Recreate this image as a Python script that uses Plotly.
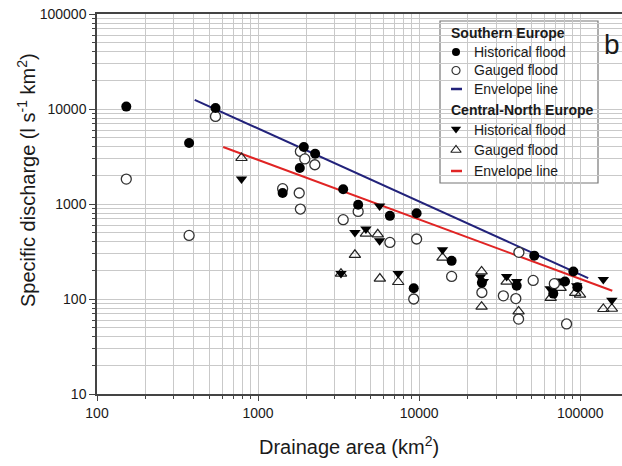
import plotly.graph_objects as go

# ---- data (drainage area km2, specific discharge l s-1 km-2) ----
south_hist_area = [152, 373, 544, 1923, 2260, 1815, 1420, 3375, 4180, 6580, 9640, 9250,
                   15900, 24500, 40300, 51800, 90600, 68000, 80400, 96000]
south_hist_q = [10600, 4390, 10260, 3980, 3380, 2390, 1306, 1430, 984, 750, 800, 130,
                252, 148, 138, 286, 195, 114, 153, 133]

south_gaug_area = [152, 373, 544, 1830, 1950, 2250, 1420, 1800, 1830, 3375, 4180, 6580,
                   9640, 9250, 15900, 24500, 33300, 39800, 41400, 41600, 51000, 69000, 82200]
south_gaug_q = [1830, 467, 8360, 3580, 2980, 2590, 1450, 1306, 885, 684, 836, 394,
                428, 100, 173, 117, 108, 101, 61.5, 310, 157, 145, 54.6]

cn_hist_area = [789, 5680, 3990, 4670, 5680, 3270, 7410, 13960, 24000, 25000, 34900,
                40300, 65000, 76000, 95000, 139000, 157000]
cn_hist_q = [1830, 950, 500, 545, 411, 185, 185, 330, 170, 153, 172,
             153, 128, 155, 138, 160, 97]

cn_gaug_area = [789, 4670, 5530, 3990, 3270, 5700, 7410, 13960, 24400, 24400, 34900,
                41400, 65500, 75500, 93000, 99600, 139000, 157000]
cn_gaug_q = [3050, 487, 480, 292, 185, 164, 151, 272, 195, 83, 152,
             74, 103, 131, 116, 111, 78.5, 79]

south_env_area = [404, 112000]
south_env_q = [12500, 166]
cn_env_area = [607, 158000]
cn_env_q = [3980, 122]

y_ticks = [10, 100, 1000, 10000, 100000]
y_tick_text = ["10", "100", "1000", "10000", "100000"]
x_ticks = [100, 1000, 10000, 100000]
x_tick_text = ["100", "1000", "10000", "100000"]

BLUE = "#22227a"
RED = "#e02424"
FONT = "Arial, Liberation Sans, sans-serif"

W, H = 622, 466
L, R, T, B = 97, 0, 14, 466 - 394
PW, PH = W - L - R, H - T - B


def px(xp):
    return (xp - L) / PW


def py(yp):
    return (H - B - yp) / PH


fig = go.Figure()

fig.add_trace(go.Scatter(x=south_env_area, y=south_env_q, mode="lines",
                         line=dict(color=BLUE, width=2), showlegend=False))
fig.add_trace(go.Scatter(x=cn_env_area, y=cn_env_q, mode="lines",
                         line=dict(color=RED, width=2), showlegend=False))

fig.add_trace(go.Scatter(x=cn_gaug_area, y=cn_gaug_q, mode="markers", showlegend=False,
                         marker=dict(symbol="triangle-up-open", size=10,
                                     color="#222", line=dict(width=1.2))))
fig.add_trace(go.Scatter(x=cn_hist_area, y=cn_hist_q, mode="markers", showlegend=False,
                         marker=dict(symbol="triangle-down", size=10, color="black",
                                     line=dict(width=0))))
fig.add_trace(go.Scatter(x=south_gaug_area, y=south_gaug_q, mode="markers", showlegend=False,
                         marker=dict(symbol="circle", size=10, color="white",
                                     line=dict(color="#333", width=1.3))))
fig.add_trace(go.Scatter(x=south_hist_area, y=south_hist_q, mode="markers", showlegend=False,
                         marker=dict(symbol="circle", size=10, color="black",
                                     line=dict(width=0))))

# ---- manual legend drawn in a paper-space overlay axis ----
leg_sym_x = 456
leg_text_x = 472
legend_marks = [
    (52, "circle", 8, "black", 0),
    (70.5, "circle-open", 8, "#333", 1.2),
    (129, "triangle-down", 9, "black", 0),
    (150, "triangle-up-open", 9, "#222", 1.2),
]
for yy, sym, sz, col, lw in legend_marks:
    fig.add_trace(go.Scatter(x=[px(leg_sym_x)], y=[py(yy)], xaxis="x2", yaxis="y2",
                             mode="markers", showlegend=False, hoverinfo="skip",
                             marker=dict(symbol=sym, size=sz, color=col, line=dict(width=lw))))
for yy, col in [(89, BLUE), (171, RED)]:
    fig.add_trace(go.Scatter(x=[px(451), px(462)], y=[py(yy), py(yy)], xaxis="x2", yaxis="y2",
                             mode="lines", showlegend=False, hoverinfo="skip",
                             line=dict(color=col, width=2.5)))

legend_rows = [
    ("<b>Southern Europe</b>", 449, 33),
    ("Historical flood", leg_text_x, 52),
    ("Gauged flood", leg_text_x, 70.5),
    ("Envelope line", leg_text_x, 89),
    ("<b>Central-North Europe</b>", 449, 110),
    ("Historical flood", leg_text_x, 130),
    ("Gauged flood", leg_text_x, 150),
    ("Envelope line", leg_text_x, 171),
]
annotations = []
for txt, ax, ay in legend_rows:
    annotations.append(dict(text=txt, x=px(ax), y=py(ay), xref="paper", yref="paper",
                            showarrow=False, xanchor="left", yanchor="middle",
                            font=dict(family=FONT, size=14, color="#1a1a1a")))

annotations.append(dict(text="b", x=px(612), y=py(44), xref="paper", yref="paper",
                        showarrow=False, xanchor="center", yanchor="middle",
                        font=dict(family=FONT, size=28, color="#1a1a1a")))
annotations.append(dict(text="Drainage area (km<sup>2</sup>)", x=px(349), y=py(445),
                        xref="paper", yref="paper", showarrow=False,
                        xanchor="center", yanchor="middle",
                        font=dict(family=FONT, size=20, color="#1a1a1a")))
annotations.append(dict(text="Specific discharge (l s<sup>-1</sup> km<sup>2</sup>)",
                        x=px(26), y=py(180), xref="paper", yref="paper",
                        showarrow=False, textangle=-90, xanchor="center", yanchor="middle",
                        font=dict(family=FONT, size=20, color="#1a1a1a")))

shapes = [dict(type="rect", xref="paper", yref="paper", x0=px(440), x1=px(598),
               y0=py(21), y1=py(183), line=dict(color="#777", width=1.2),
               fillcolor="white", layer="between")]

grid_col = "#c9c9c9"
fig.update_layout(
    width=W, height=H,
    margin=dict(l=L, r=R, t=T, b=B, autoexpand=False),
    paper_bgcolor="white", plot_bgcolor="white",
    font=dict(family=FONT, size=14, color="#1a1a1a"),
    xaxis=dict(type="log", range=[2, 5.259], tickvals=x_ticks, ticktext=x_tick_text,
               showgrid=True, gridcolor=grid_col, gridwidth=1,
               showline=True, linecolor="#444", linewidth=1.5, mirror=True,
               ticks="outside", ticklen=5, tickcolor="#444", automargin=False,
               ticklabeloverflow="allow",
               minor=dict(dtick="D1", showgrid=True, gridcolor=grid_col, gridwidth=1,
                          ticks="outside", ticklen=3, tickcolor="#444"),
               tickfont=dict(size=14), zeroline=False),
    yaxis=dict(type="log", range=[1, 5], tickvals=y_ticks, ticktext=y_tick_text,
               showgrid=True, gridcolor=grid_col, gridwidth=1,
               showline=True, linecolor="#444", linewidth=1.5, automargin=False,
               ticklabeloverflow="allow",
               ticks="outside", ticklen=6, tickcolor="#444",
               minor=dict(dtick="D1", showgrid=True, gridcolor=grid_col, gridwidth=1,
                          ticks="outside", ticklen=3, tickcolor="#444"),
               tickfont=dict(size=14), zeroline=False),
    xaxis2=dict(range=[0, 1], overlaying="x", anchor="y2", visible=False),
    yaxis2=dict(range=[0, 1], overlaying="y", anchor="x2", visible=False),
    annotations=annotations,
    shapes=shapes,
    showlegend=False,
)

fig.write_html("out.html",
               config={"displayModeBar": False},
               post_script="document.body.style.margin='0';document.body.style.overflow='hidden';")
